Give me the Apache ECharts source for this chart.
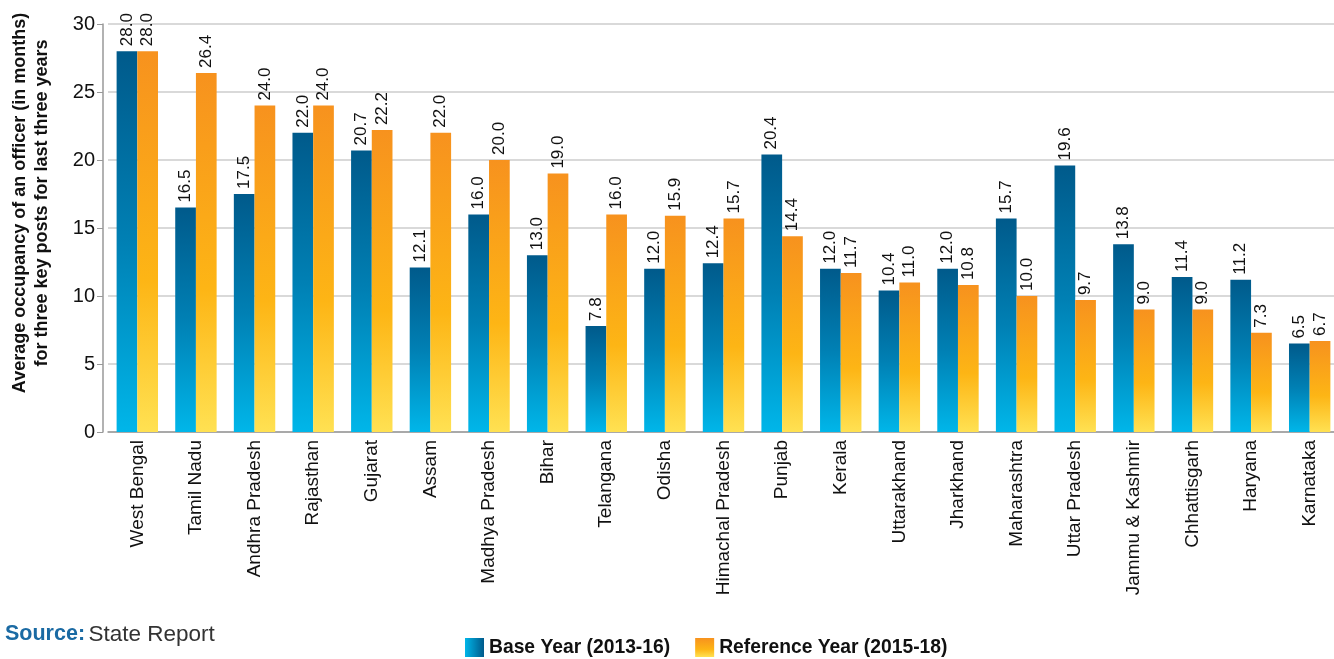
<!DOCTYPE html>
<html>
<head>
<meta charset="utf-8">
<script src="https://cdn.jsdelivr.net/npm/echarts@6/dist/echarts.min.js"></script>
<style>html,body{margin:0;padding:0;background:#fff}#c{width:1334px;height:659px}</style>
</head>
<body>
<div id="c"></div>
<script>
const categories = ["West Bengal","Tamil Nadu","Andhra Pradesh","Rajasthan","Gujarat","Assam","Madhya Pradesh","Bihar","Telangana","Odisha","Himachal Pradesh","Punjab","Kerala","Uttarakhand","Jharkhand","Maharashtra","Uttar Pradesh","Jammu & Kashmir","Chhattisgarh","Haryana","Karnataka"];
const baseYear = [28.0,16.5,17.5,22.0,20.7,12.1,16.0,13.0,7.8,12.0,12.4,20.4,12.0,10.4,12.0,15.7,19.6,13.8,11.4,11.2,6.5];
const referenceYear = [28.0,26.4,24.0,24.0,22.2,22.0,20.0,19.0,16.0,15.9,15.7,14.4,11.7,11.0,10.8,10.0,9.7,9.0,9.0,7.3,6.7];
const yTicks = {min:0, max:30, interval:5};
const seriesNames = ["Base Year (2013-16)","Reference Year (2015-18)"];
const yTitle = 'Average occupancy of an officer (in months)\nfor three key posts for last three years';

const SANS = '"Liberation Sans",Arial,sans-serif';
const G = echarts.graphic.LinearGradient;
const blueGrad = new G(0,0,0,1,[{offset:0,color:'#005a8b'},{offset:0.5,color:'#0080b4'},{offset:1,color:'#00b6e9'}]);
const orangeGrad = new G(0,0,0,1,[{offset:0,color:'#f7921e'},{offset:0.6,color:'#fdb515'},{offset:1,color:'#ffe152'}]);
const blueLegend = new G(0,0,1,0,[{offset:0,color:'#00b6e9'},{offset:1,color:'#005a8b'}]);

const chart = echarts.init(document.getElementById('c'), null, {renderer:'canvas'});
const valLabel = {
  show:true, position:'top', rotate:90, align:'left', verticalAlign:'middle', distance:5,
  fontFamily:SANS, fontSize:17, color:'#111',
  formatter: p => p.value.toFixed(1)
};
chart.setOption({
  animation:false,
  grid:{left:108, top:24, width:1231, bottom:227, containLabel:false, outerBoundsMode:'none'},
  legend:{
    left:465, top:638, padding:0, itemWidth:19, itemHeight:19, itemGap:25,
    icon:'rect',
    textStyle:{fontFamily:SANS, fontWeight:'bold', fontSize:19.3, color:'#111'},
    data:[{name:seriesNames[0], itemStyle:{color:blueLegend}},{name:seriesNames[1]}]
  },
  graphic:[{
    type:'text', left:5, top:623,
    style:{
      text:'{b|Source:} {n|State Report}',
      rich:{
        b:{fontFamily:SANS, fontWeight:'bold', fontSize:21.5, fill:'#1a6aa3'},
        n:{fontFamily:SANS, fontSize:22.5, fill:'#333'}
      }
    }
  },{
    type:'text', x:31, y:203, rotation:Math.PI/2,
    style:{
      text:yTitle, align:'center', verticalAlign:'middle',
      fontFamily:SANS, fontWeight:'bold', fontSize:18, lineHeight:22, fill:'#111'
    }
  }],
  xAxis:{
    type:'category', data:categories,
    axisLine:{lineStyle:{color:'#999', width:1.5}},
    axisTick:{show:false},
    axisLabel:{rotate:90, interval:0, margin:8, fontFamily:SANS, fontSize:19, color:'#111'}
  },
  yAxis:{
    type:'value', min:yTicks.min, max:yTicks.max, interval:yTicks.interval, offset:5,
    axisLine:{show:true, lineStyle:{color:'#999', width:1.5}},
    axisTick:{show:true, length:6, lineStyle:{color:'#999'}},
    axisLabel:{margin:8, fontFamily:SANS, fontSize:20, color:'#111'},
    splitLine:{lineStyle:{color:'#ccc', width:1.5}}
  },
  series:[
    {name:seriesNames[0], type:'bar', data:baseYear, barWidth:20.7, barGap:'0%', itemStyle:{color:blueGrad}, label:valLabel},
    {name:seriesNames[1], type:'bar', data:referenceYear, barWidth:20.7, barGap:'0%', itemStyle:{color:orangeGrad}, label:valLabel}
  ]
});
</script>
</body>
</html>
